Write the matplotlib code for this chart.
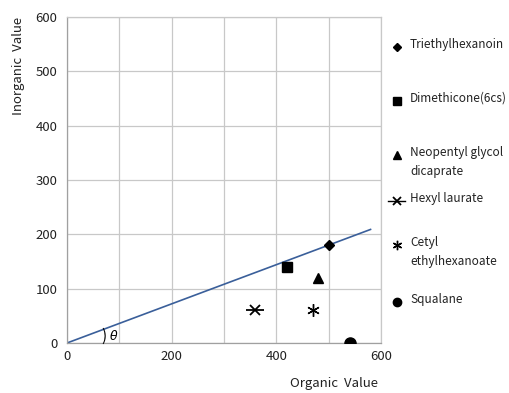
import matplotlib
matplotlib.use("Agg")
import matplotlib.pyplot as plt

plt.rcParams['font.family'] = ['Noto Sans CJK KR', 'DejaVu Sans']

names = ["Triethylhexanoin", "Dimethicone(6cs)", "Neopentyl glycol\ndicaprate",
         "Hexyl laurate", "Cetyl\nethylhexanoate", "Squalane"]
organic = [500, 420, 480, 360, 470, 540]
inorganic = [180, 140, 120, 60, 60, 0]
line_x = [0, 580]
line_y = [0, 209]
ticks = [0, 100, 200, 300, 400, 500, 600]
xtick_labels = ["0", "", "200", "", "400", "", "600"]

W, H = 510, 393
fig = plt.figure(figsize=(W/100, H/100), dpi=100)
ax = fig.add_axes([67/W, 1-343/H, (381-67)/W, (343-17)/H])
ax.set_xlim(0, 600)
ax.set_ylim(0, 600)
ax.set_xticks(ticks)
ax.set_xticklabels(xtick_labels)
ax.set_yticks(ticks)
ax.grid(True, color='#c8c8c8', lw=0.9)
ax.set_axisbelow(True)
for s in ax.spines.values():
    s.set_color('#c8c8c8')
    s.set_linewidth(0.9)
ax.spines['left'].set_color('#a0a0a0')
ax.spines['bottom'].set_color('#a0a0a0')
ax.tick_params(length=0, labelsize=9.5, colors='#222222')
ax.tick_params(axis='y', pad=7)
ax.tick_params(axis='x', pad=5)

ax.plot(line_x, line_y, color='#3a5f9a', lw=1.2, zorder=2)

styles = [dict(marker='D', ms=5), dict(marker='s', ms=7), dict(marker='^', ms=7),
          dict(marker='x', ms=7, mew=1.3), dict(marker=(6, 2, 0), ms=9, mew=1.0), dict(marker='o', ms=8)]
for i in range(len(names)):
    ax.plot(organic[i], inorganic[i], ls='none', color='black', zorder=3, **styles[i])
    if i == 3:
        ax.plot(organic[i], inorganic[i], ls='none', marker='_', ms=13, mew=1.3, color='black', zorder=3)

ax.text(70, 13, ")", fontsize=11, ha='center', va='center')
ax.text(89, 13, r"$\theta$", fontsize=9, ha='center', va='center')

ax.set_xlabel("Organic  Value", fontsize=9.5, color='#222222', va='center', ha='center')
ax.xaxis.set_label_coords((334-67)/(381-67), -(383-343)/(343-17))
ax.set_ylabel("Inorganic  Value", fontsize=9.5, color='#222222', va='center', ha='center')
ax.yaxis.set_label_coords(-(67-18)/(381-67), (343-66)/(343-17))

# legend drawn in pixel coordinates
lg = fig.add_axes([0, 0, 1, 1])
lg.set_xlim(0, W)
lg.set_ylim(H, 0)
lg.axis('off')
ys = [47, 101, 155, 201, 245, 302]
for i, n in enumerate(names):
    st = dict(styles[i])
    st['ms'] = st['ms'] * 0.75
    lg.plot(397, ys[i], ls='none', color='black', **st)
    if i == 3:
        lg.plot([388, 405], [ys[i], ys[i]], color='black', lw=1)
    lg.text(410, ys[i] - 9, n, fontsize=8.5, ha='left', va='top', color='#222222', linespacing=1.55)

fig.savefig("out.png", dpi=100)
